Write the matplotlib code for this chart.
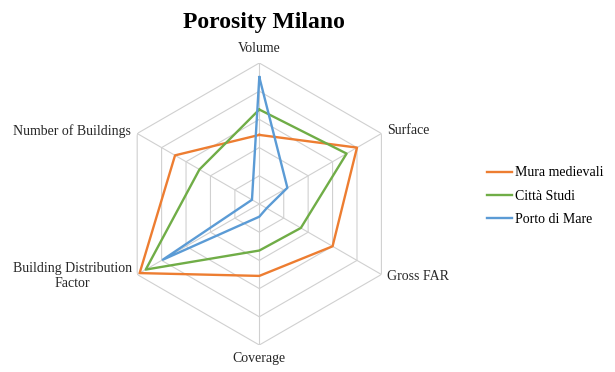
import numpy as np
import matplotlib
matplotlib.use("Agg")
import matplotlib.pyplot as plt

# ---- data (fraction of outer ring) ----
categories = ["Volume", "Surface", "Gross FAR", "Coverage",
              "Building Distribution\nFactor", "Number of Buildings"]
mura = [0.49, 0.80, 0.60, 0.51, 0.98, 0.69]
citta = [0.67, 0.715, 0.34, 0.33, 0.93, 0.49]
porto = [0.90, 0.23, 0.06, 0.09, 0.79, 0.06]
series_names = ["Mura medievali", "Città Studi", "Porto di Mare"]
rings = [0.2, 0.4, 0.6, 0.8, 1.0]

plt.rcParams["font.family"] = ["Liberation Serif", "DejaVu Serif"]
COLORS = ["#ED7D31", "#70AD47", "#5B9BD5"]
GRID = "#D0D0D0"

W, H = 615, 372
fig = plt.figure(figsize=(W / 100, H / 100), dpi=100)
cx, cy, R = 259.3, 204.0, 141.0
ax = fig.add_axes([(cx - R) / W, (H - cy - R) / H, 2 * R / W, 2 * R / H],
                  projection="polar")
ax.set_theta_offset(np.pi / 2)
ax.set_theta_direction(-1)
ax.set_ylim(0, 1)
ax.grid(False)
ax.spines["polar"].set_visible(False)
ax.set_xticks([]); ax.set_yticks([])
ax.patch.set_alpha(0)

n = len(categories)
theta = np.linspace(0, 2 * np.pi, n, endpoint=False)
closed = np.append(theta, theta[0])

# hexagonal grid + spokes
for r in rings:
    ax.plot(closed, [r] * (n + 1), color=GRID, lw=0.8, zorder=1)
for t in theta:
    ax.plot([t, t], [0, 1], color=GRID, lw=0.8, zorder=1)

for vals, col, name in zip([mura, citta, porto], COLORS, series_names):
    ax.plot(closed, vals + vals[:1], color=col, lw=1.7, label=name, zorder=3)

# category labels (offsets in points from the outer vertex)
offs = [((0, 10.8), "center", "center"),
        ((3.8, 2.5), "left", "center"),
        ((4.0, -1.6), "left", "center"),
        ((0, -9.4), "center", "center"),
        ((-4.0, -1.4), "right", "center"),
        ((-4.7, 2.0), "right", "center")]
for t, lab, (off, ha, va) in zip(theta, categories, offs):
    ax.annotate(lab, xy=(t, 1.0), xytext=off, textcoords="offset points",
                ha=ha, va=va, multialignment="center", fontsize=10,
                color="#262626", annotation_clip=False)

fig.text(263.5 / W, (H - 28.3) / H, "Porosity Milano", ha="center", va="baseline",
         fontsize=17, fontweight="bold", color="black")

fig.legend(loc="center left", bbox_to_anchor=(487 / W, (H - 196) / H),
           bbox_transform=fig.transFigure, frameon=False, fontsize=10,
           handlelength=1.8, handletextpad=0.25, labelspacing=0.73,
           borderpad=0, borderaxespad=0)

fig.savefig("out.png", dpi=100, facecolor="white")
